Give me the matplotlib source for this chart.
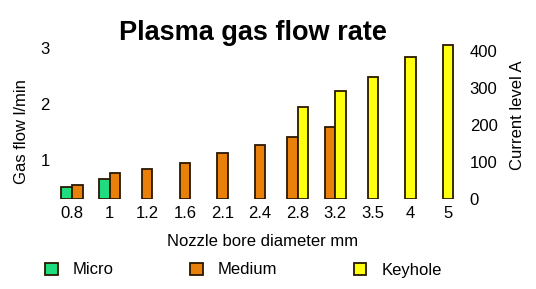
import matplotlib
matplotlib.use("Agg")
import matplotlib.pyplot as plt
from matplotlib.patches import Patch
import numpy as np

plt.rcParams['font.family'] = ['Liberation Sans', 'DejaVu Sans']

# nozzle bore diameters (mm)
nozzles = ["0.8", "1", "1.2", "1.6", "2.1", "2.4", "2.8", "3.2", "3.5", "4", "5"]
# current level (A) per mode, None where mode not used
micro = [32, 54, None, None, None, None, None, None, None, None, None]
medium = [38, 70, 81, 97, 124, 146, 168, 195, None, None, None]
keyhole = [None, None, None, None, None, None, 249, 292, 330, 384, 416]

series = [("Micro", micro, "#20dc80"),
          ("Medium", medium, "#e8800a"),
          ("Keyhole", keyhole, "#ffff10")]
edge = "#2a1800"

W, H = 536, 289
fig = plt.figure(figsize=(W / 100, H / 100), dpi=100)
# axes box in pixels: left 58, right 460, bottom y=199, top y=40
ax = fig.add_axes([58 / W, (H - 199) / H, (460 - 58) / W, (199 - 40) / H])
ax2 = ax.twinx()

bw = 0.28
x = np.arange(len(nozzles))
for i in range(len(nozzles)):
    present = [(n, v[i], c) for n, v, c in series if v[i] is not None]
    k = len(present)
    for j, (n, val, c) in enumerate(present):
        ax2.bar(x[i] + (j - (k - 1) / 2) * bw, val, width=bw,
                color=c, edgecolor=edge, linewidth=1.3, zorder=3)

ax.set_xlim(-0.372, 10.32)
ax2.set_ylim(0, 159 / 0.37)
ax.set_ylim(0.3125, 3.15)

ax.set_xticks(x)
ax.set_xticklabels(nozzles, fontsize=12)
ax.set_yticks([1, 2, 3])
ax.set_yticklabels(["1", "2", "3"], fontsize=12)
ax2.set_yticks([0, 100, 200, 300, 400])
ax2.set_yticklabels(["0", "100", "200", "300", "400"], fontsize=12)

for a in (ax, ax2):
    for s in a.spines.values():
        s.set_visible(False)
    a.tick_params(length=0)
ax.tick_params(axis='y', pad=6)
ax.tick_params(axis='x', pad=5)
ax2.tick_params(axis='y', pad=7)

fig.text(253 / W, 1 - 33 / H, "Plasma gas flow rate", fontsize=19.5,
         fontweight='bold', ha='center', va='center')
fig.text(263 / W, 1 - 242 / H, "Nozzle bore diameter mm", fontsize=12,
         ha='center', va='center')
fig.text(22 / W, 1 - 132 / H, "Gas flow l/min", fontsize=12,
         rotation=90, ha='center', va='center')
fig.text(518 / W, 1 - 115 / H, "Current level A", fontsize=12,
         rotation=90, ha='center', va='center')

handles = [Patch(facecolor=c, edgecolor=edge, linewidth=1.3, label=n)
           for n, v, c in series]
fig.legend(handles=handles, ncol=3, loc='center left',
           bbox_to_anchor=(30 / W, 1 - 270 / H), frameon=False,
           fontsize=12, handlelength=0.75, handleheight=0.75,
           handletextpad=0.9, columnspacing=4.6)

fig.savefig("out.png", dpi=100)
